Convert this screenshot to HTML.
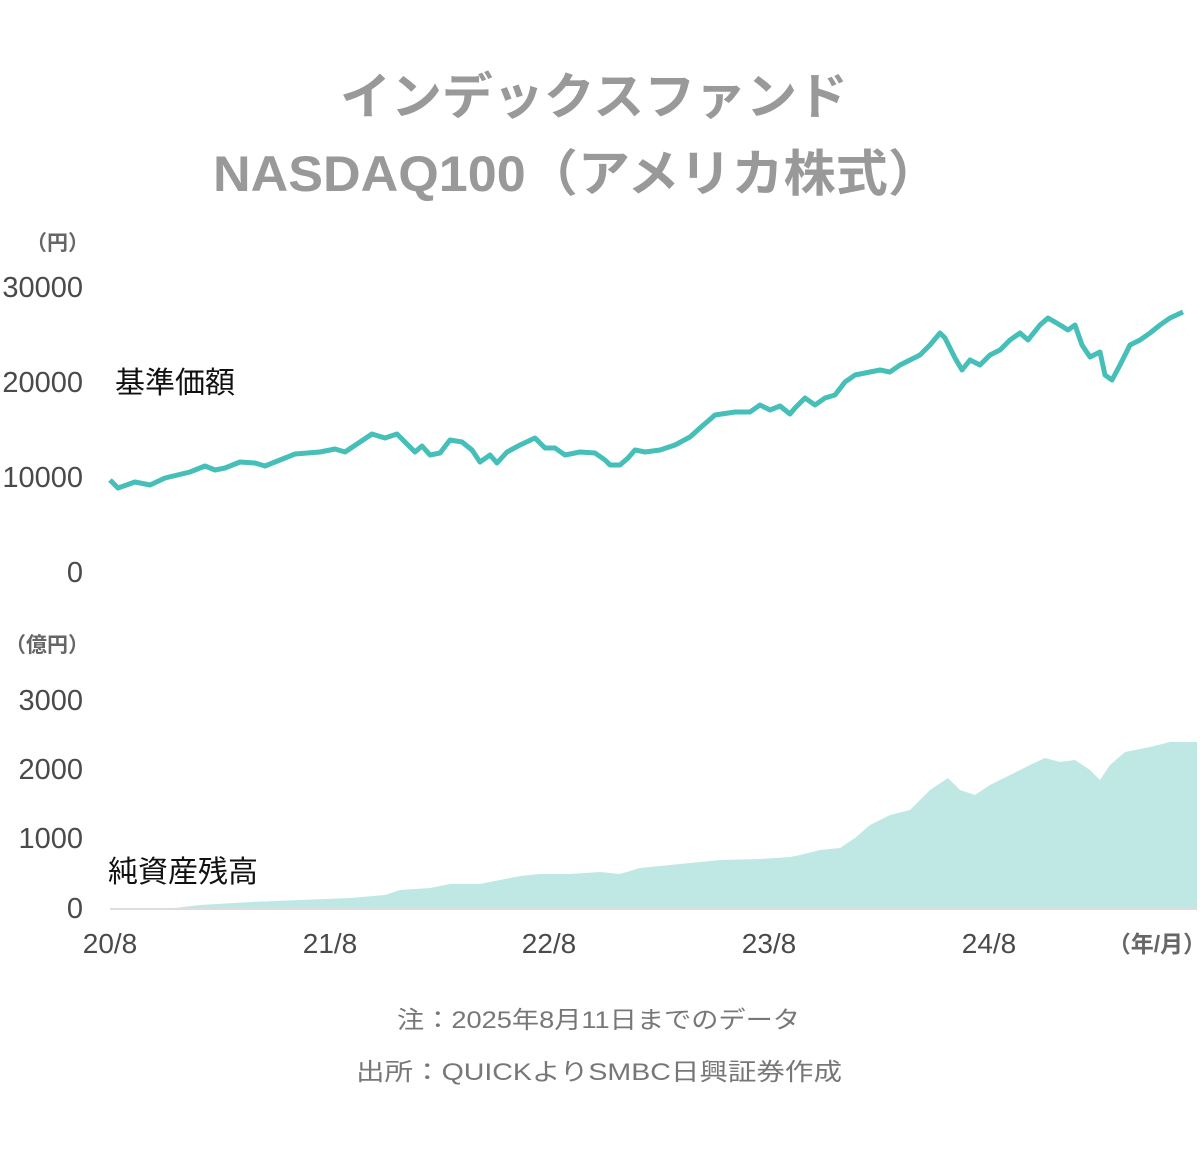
<!DOCTYPE html>
<html><head><meta charset="utf-8"><style>
html,body{margin:0;padding:0;background:#fff;}
svg{display:block;}
text{font-family:"Liberation Sans","Noto Sans CJK JP",sans-serif;}
</style></head><body>
<svg width="1200" height="1154" viewBox="0 0 1200 1154">
<g fill="#999" font-weight="bold" font-size="50">
<text x="340" y="114" textLength="508" lengthAdjust="spacingAndGlyphs">インデックスファンド</text>
<text x="213" y="191" textLength="727" lengthAdjust="spacingAndGlyphs">NASDAQ100（アメリカ株式）</text>
</g>
<g fill="#4a4a4a" font-size="29" text-anchor="end">
<text x="89" y="250" font-size="21" font-weight="bold" fill="#666">（円）</text>
<text x="83" y="297">30000</text>
<text x="83" y="392">20000</text>
<text x="83" y="487">10000</text>
<text x="83" y="582">0</text>
<text x="89" y="652" font-size="21" font-weight="bold" fill="#666">（億円）</text>
<text x="83" y="710">3000</text>
<text x="83" y="779">2000</text>
<text x="83" y="848">1000</text>
<text x="83" y="918">0</text>
</g>
<text x="115" y="393" font-size="30" fill="#111">基準価額</text>
<text x="108" y="882" font-size="30" fill="#111">純資産残高</text>
<path fill="#bfe8e5" d="M110,908 L175,908 200,905 250,902 300,900 350,898 385,895 400,890 430,888 450,884 480,884 500,880 520,876 540,874 570,874 600,872 620,874 640,868 680,864 700,862 720,860 760,859 790,857 800,855 820,850 840,848 855,838 870,825 890,815 910,810 930,790 948,778 960,790 975,795 990,785 1010,775 1030,765 1045,758 1060,762 1075,760 1090,770 1100,780 1110,765 1125,752 1150,747 1170,742 1197,742 L1197,909 L110,909 Z"/>
<line x1="110" y1="909" x2="1197" y2="909" stroke="#ddd" stroke-width="2"/>
<polyline fill="none" stroke="#45bfb8" stroke-width="5" stroke-linejoin="round" points="110,480 118,488 135,482 150,485 165,478 190,472 205,466 215,470 225,468 240,462 255,463 265,466 280,460 295,454 320,452 335,449 345,452 360,442 372,434 385,438 397,434 408,445 415,452 422,446 430,455 440,453 450,440 462,442 472,450 480,462 490,455 497,463 507,452 520,445 535,438 545,448 555,448 565,455 580,452 595,453 605,460 610,465 620,465 628,458 635,450 645,452 660,450 675,445 690,437 700,428 715,415 735,412 750,412 760,405 770,410 780,406 790,414 795,408 805,398 815,405 825,398 835,395 845,382 855,375 870,372 880,370 890,372 900,365 910,360 920,355 930,345 940,333 945,338 955,358 962,370 970,360 980,365 990,355 1000,350 1010,340 1020,333 1028,340 1040,325 1048,318 1060,325 1068,330 1075,325 1082,345 1090,357 1100,352 1105,375 1112,380 1120,365 1130,345 1140,340 1150,333 1160,325 1170,318 1183,312"/>
<g fill="#4a4a4a" font-size="28" text-anchor="middle">
<text x="110" y="953">20/8</text>
<text x="330" y="953">21/8</text>
<text x="549" y="953">22/8</text>
<text x="769" y="953">23/8</text>
<text x="989" y="953">24/8</text>
<text x="1157" y="952" font-size="23" font-weight="bold" fill="#666">（年/月）</text>
</g>
<g fill="#777" font-size="24">
<text x="397" y="1028" textLength="403" lengthAdjust="spacingAndGlyphs">注：2025年8月11日までのデータ</text>
<text x="356" y="1080" textLength="486" lengthAdjust="spacingAndGlyphs">出所：QUICKよりSMBC日興証券作成</text>
</g>
</svg>
</body></html>
